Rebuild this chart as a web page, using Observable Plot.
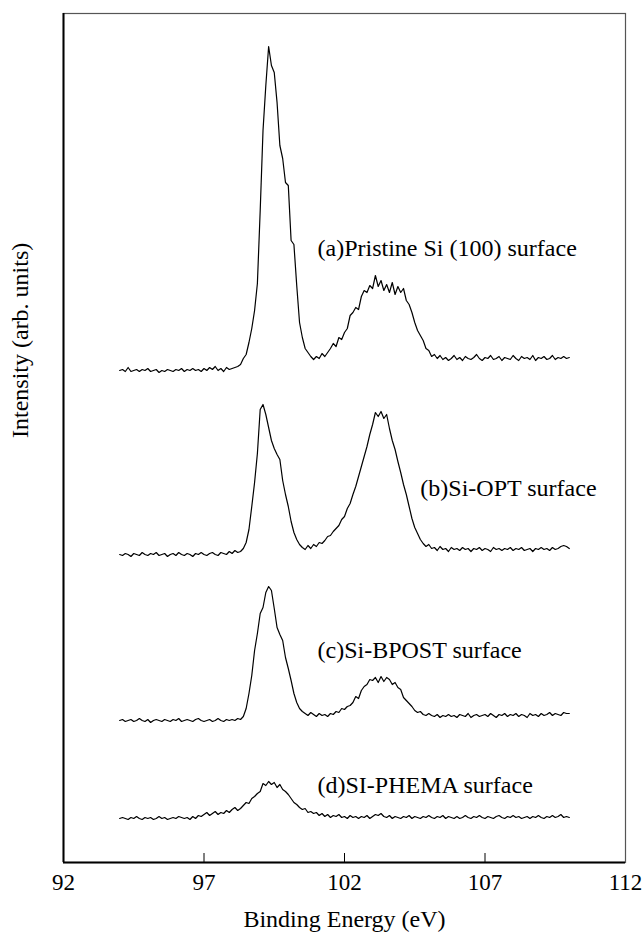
<!DOCTYPE html>
<html>
<head>
<meta charset="utf-8">
<script src="https://cdn.jsdelivr.net/npm/d3@7"></script>
<script src="https://cdn.jsdelivr.net/npm/@observablehq/plot@0.6"></script>
<style>
  html, body { margin: 0; padding: 0; background: #fff; }
  #chart svg { display: block; }
  #chart svg, #chart svg text { font-family: "Liberation Serif", "DejaVu Serif", serif !important; }
</style>
</head>
<body>
<div id="chart"></div>
<script>
// ---- data ----
const eStart = 94.0;   // first channel, eV
const eStep = 0.1;     // channel spacing, eV

// intensity above each spectrum's own baseline (arb. units), rows of 1 eV
const specA = [
  0, 1, -1, 3, -1, 0, 1, -1, 1, 0,
  2, -1, 0, 1, -2, 0, -1, 1, 0, -1,
  1, 0, 2, -1, 1, 0, 2, 0, 1, -1,
  2, 0, 3, 1, 4, 0, 2, -1, 3, 1,
  2, 3, 4, 6, 12, 16, 28, 42, 60, 87,
  160, 240, 285, 324, 305, 298, 268, 225, 212, 188,
  185, 130, 126, 85, 48, 33, 22, 18, 14, 11,
  14, 12, 17, 14, 18, 22, 27, 24, 33, 31,
  38, 42, 55, 58, 63, 61, 74, 80, 78, 85,
  82, 95, 84, 90, 80, 86, 78, 88, 76, 84,
  78, 82, 70, 66, 58, 48, 40, 35, 30, 22,
  20, 14, 16, 12, 15, 11, 13, 10, 12, 15,
  11, 13, 10, 14, 12, 11, 13, 16, 12, 10,
  13, 12, 15, 11, 12, 14, 10, 13, 12, 11,
  15, 12, 10, 14, 12, 13, 11, 15, 10, 13,
  12, 14, 11, 12, 15, 11, 13, 12, 14, 12,
  13
];
const specB = [
  0, -1, 1, 0, -2, 1, 0, -1, 2, 0,
  -1, 1, 0, 2, -1, 0, 1, -2, 0, 1,
  -1, 2, 0, -1, 1, 0, -2, 1, 0, 2,
  0, -1, 1, 2, 0, -1, 2, 1, 0, 3,
  1, 4, 2, 3, 6, 12, 25, 48, 72, 101,
  145, 150, 140, 127, 114, 106, 100, 95, 74, 60,
  48, 33, 22, 15, 10, 7, 5, 9, 6, 10,
  8, 12, 11, 14, 18, 19, 23, 26, 29, 35,
  38, 46, 51, 60, 68, 78, 88, 98, 108, 120,
  130, 142, 138, 143, 136, 140, 126, 114, 105, 93,
  82, 70, 60, 48, 36, 27, 21, 15, 11, 8,
  10, 6, 7, 4, 8, 5, 6, 3, 7, 5,
  6, 4, 7, 5, 6, 3, 6, 5, 7, 4,
  6, 5, 3, 7, 5, 6, 4, 6, 5, 7,
  4, 6, 5, 7, 4, 5, 6, 3, 6, 5,
  7, 5, 6, 4, 7, 5, 6, 8, 9, 8,
  6
];
const specC = [
  0, 1, -1, 0, 1, -1, 0, 2, 0, -1,
  1, -2, 0, 1, 0, -1, 1, 0, -1, 1,
  0, 2, -1, 0, 1, 0, -1, 1, 2, 0,
  -1, 0, 1, -1, 0, 2, 0, -1, 1, 0,
  1, 0, 2, 1, 4, 12, 27, 45, 70, 87,
  107, 113, 128, 134, 130, 112, 93, 86, 80, 63,
  52, 40, 27, 18, 12, 9, 7, 5, 8, 6,
  4, 7, 5, 6, 4, 7, 6, 9, 8, 12,
  11, 14, 15, 18, 24, 22, 30, 34, 36, 41,
  40, 43, 38, 44, 39, 43, 41, 36, 38, 33,
  31, 23, 20, 17, 14, 10, 8, 9, 6, 5,
  7, 5, 4, 6, 3, 5, 4, 6, 4, 5,
  3, 6, 5, 4, 7, 3, 5, 6, 4, 5,
  6, 4, 7, 5, 3, 6, 5, 7, 4, 6,
  5, 7, 4, 6, 5, 3, 7, 5, 6, 4,
  7, 5, 6, 8, 5, 7, 6, 5, 8, 7,
  7
];
const specD = [
  0, 1, 0, -1, 1, 0, 2, 0, -1, 1,
  0, 1, -1, 0, 2, 0, 1, -1, 0, 1,
  0, 2, 1, 0, 1, -1, 2, 0, 3, 2,
  4, 6, 3, 5, 7, 4, 6, 5, 8, 6,
  9, 11, 8, 10, 13, 16, 15, 20, 22, 25,
  27, 35, 33, 37, 34, 36, 31, 34, 29, 27,
  24, 20, 16, 14, 11, 9, 10, 6, 7, 5,
  6, 3, 5, 2, 4, 1, 3, 2, 4, 1,
  2, 0, 3, 1, 2, 0, 2, 1, 3, 0,
  2, 4, 3, 5, 2, 1, 3, 0, 2, 1,
  0, 2, 1, 3, 0, 2, 1, 0, 2, 1,
  3, 1, 0, 2, 1, 3, 0, 2, 1, 0,
  2, 0, 1, 3, 1, 0, 2, 1, 3, 1,
  0, 2, 1, 0, 2, 3, 1, 0, 2, 1,
  3, 1, 2, 0, 1, 2, 0, 2, 1, 3,
  1, 0, 2, 1, 3, 1, 2, 4, 1, 2,
  1
];

const seriesNames = ["a", "b", "c", "d"];
const seriesValues = [specA, specB, specC, specD];
const seriesOffsets = [492, 308, 142, 44];   // vertical stacking offsets (arb. units)

const labelTexts = [
  "(a)Pristine Si (100) surface",
  "(b)Si-OPT surface",
  "(c)Si-BPOST surface",
  "(d)SI-PHEMA surface"
];
const labelEnergy = [101.04, 104.70, 101.04, 101.04];
const labelLevel = [614, 374, 212, 77];

const xTicks = [92, 97, 102, 107, 112];
const xLabel = "Binding Energy (eV)";
const yLabel = "Intensity (arb. units)";

// ---- build table ----
const rows = [];
seriesNames.forEach((name, k) => {
  seriesValues[k].forEach((v, i) => {
    rows.push({series: name, energy: +(eStart + i * eStep).toFixed(2), intensity: v + seriesOffsets[k]});
  });
});
const labels = labelTexts.map((t, k) => ({text: t, x: labelEnergy[k], y: labelLevel[k]}));

const font = "Liberation Serif, DejaVu Serif, serif";

const chart = Plot.plot({
  width: 643,
  height: 933,
  marginLeft: 63,
  marginRight: 18,
  marginTop: 13,
  marginBottom: 71,
  style: {fontFamily: font, fontSize: "23px", background: "white", color: "black"},
  x: {domain: [92, 112], ticks: xTicks, tickSize: 0, tickPadding: 11, label: null, tickFormat: d => String(d)},
  y: {domain: [0, 849], axis: null},
  marks: [
    Plot.ruleX(xTicks, {y1: 0, y2: 9, stroke: "black", strokeWidth: 1}),
    Plot.line(rows, {x: "energy", y: "intensity", z: "series", stroke: "black", strokeWidth: 1.2, curve: "linear"}),
    Plot.text(labels, {x: "x", y: "y", text: "text", textAnchor: "start", fontSize: 24, fontFamily: font, fill: "black"}),
    Plot.text([yLabel], {frameAnchor: "left", dx: -43, rotate: -90, fontSize: 24, fontFamily: font, fill: "black"}),
    Plot.text([xLabel], {frameAnchor: "bottom", dy: 64, fontSize: 24, fontFamily: font, fill: "black"}),
    Plot.frame({stroke: "#555", strokeWidth: 1.2}),
    Plot.ruleX([92], {stroke: "black", strokeWidth: 2}),
    Plot.ruleY([0], {stroke: "black", strokeWidth: 2})
  ]
});
document.getElementById("chart").appendChild(chart);
</script>
</body>
</html>
